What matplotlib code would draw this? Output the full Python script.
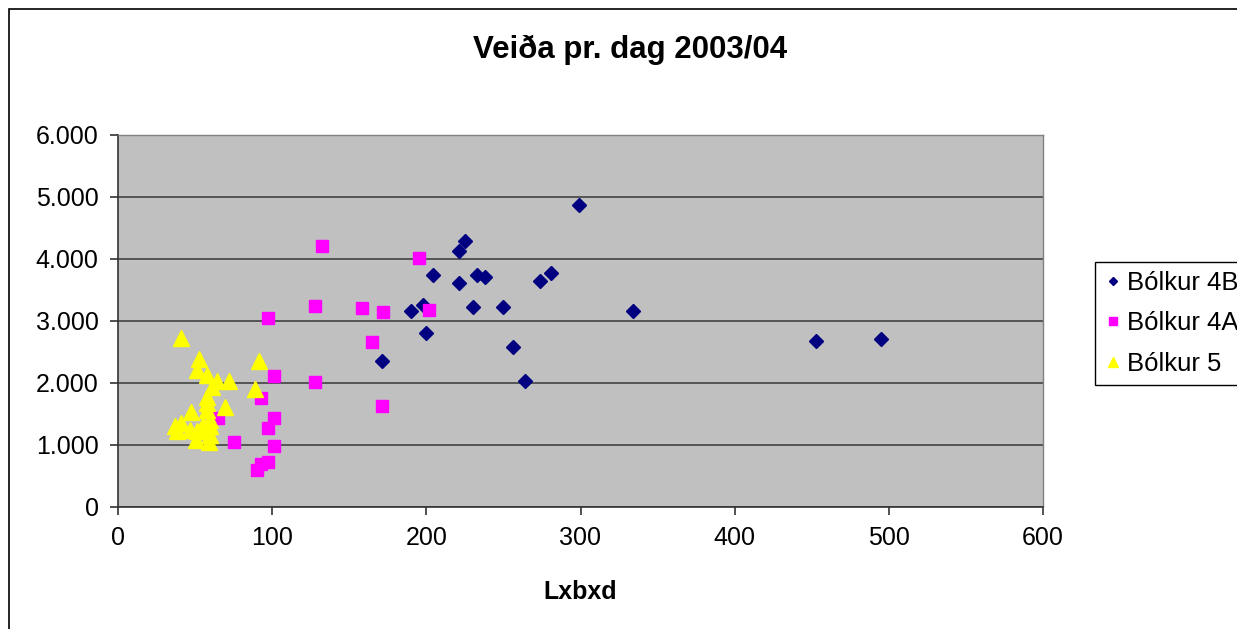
import matplotlib
matplotlib.use("Agg")
import matplotlib.pyplot as plt
from matplotlib.patches import Rectangle
from matplotlib.ticker import FuncFormatter, MultipleLocator

plt.rcParams['font.family'] = ['Liberation Sans', 'DejaVu Sans']

title = "Veiða pr. dag 2003/04"
xlabel = "Lxbxd"
series_names = ["Bólkur 4B", "Bólkur 4A", "Bólkur 5"]

# Bólkur 4B
x_4b = [299, 225, 221, 204, 221, 233, 238, 274, 281, 198, 190, 230, 250, 200, 256, 171, 264, 334, 453, 495]
y_4b = [4875, 4290, 4130, 3740, 3620, 3750, 3710, 3650, 3780, 3260, 3160, 3230, 3230, 2805, 2585, 2360, 2035, 3165, 2675, 2710]

# Bólkur 4A
x_4a = [132, 195, 128, 158, 172, 202, 165, 128, 171, 97, 101, 93, 101, 97, 75, 101, 97, 93, 90, 65]
y_4a = [4215, 4020, 3245, 3215, 3150, 3180, 2665, 2020, 1630, 3050, 2120, 1760, 1440, 1280, 1055, 990, 730, 700, 600, 1440]

# Bólkur 5
x_5 = [41, 52.5, 51, 91.5, 57.5, 64, 72, 89, 61, 57.5, 57.5, 69.5, 57.5, 47.5, 41, 37, 38.5, 46.5,
       59.5, 59.5, 51, 50.5, 59, 59.5, 55, 55]
y_5 = [2730, 2380, 2210, 2350, 2130, 2040, 2040, 1900, 1930, 1780, 1670, 1620, 1565, 1540, 1350, 1300, 1220, 1240,
       1400, 1300, 1220, 1080, 1050, 1160, 1220, 1320]

W, H = 1237, 629
fig = plt.figure(figsize=(W / 100, H / 100), dpi=100)
fig.patch.set_facecolor('white')

# outer chart border (extends beyond the image at right/bottom)
fig.patches.append(Rectangle((9 / W, -0.1), 1.2, 1 - 9 / H + 0.1, transform=fig.transFigure,
                             fill=False, edgecolor='black', linewidth=1.2, zorder=0))

left, right, top, bottom = 118 / W, 1043 / W, 135 / H, 507 / H
ax = fig.add_axes([left, 1 - bottom, right - left, bottom - top])
ax.set_facecolor('#C0C0C0')

ax.plot(x_4b, y_4b, linestyle='none', marker='D', markersize=7, color='#000080',
        markeredgecolor='#000080', label=series_names[0], zorder=3)
ax.plot(x_4a, y_4a, linestyle='none', marker='s', markersize=8.5, color='#FF00FF',
        markeredgecolor='#FF00FF', label=series_names[1], zorder=3)
ax.plot(x_5, y_5, linestyle='none', marker='^', markersize=12, color='#FFFF00',
        markeredgecolor='#FFFF00', label=series_names[2], zorder=3)

ax.set_xlim(0, 600)
ax.set_ylim(0, 6000)
ax.xaxis.set_major_locator(MultipleLocator(100))
ax.yaxis.set_major_locator(MultipleLocator(1000))
ax.yaxis.set_major_formatter(FuncFormatter(lambda v, p: "0" if v == 0 else f"{int(v):,}".replace(",", ".")))
ax.grid(axis='y', color='#555555', linewidth=1.4, zorder=1)
ax.set_axisbelow(True)

for s in ['top', 'right']:
    ax.spines[s].set_color('#808080')
    ax.spines[s].set_linewidth(1.0)
for s in ['left', 'bottom']:
    ax.spines[s].set_color('#333333')
    ax.spines[s].set_linewidth(1.2)

ax.tick_params(axis='both', direction='out', length=6, width=1.2, color='#333333',
               labelsize=18, pad=8)

ax.set_xlabel(xlabel, fontsize=18, fontweight='bold', labelpad=21)
fig.text(630 / W, 1 - 50 / H, title, ha='center', va='center', fontsize=22.5, fontweight='bold')

leg = fig.legend(loc='upper left', bbox_to_anchor=(1095 / W, 1 - 262 / H), fontsize=18.5,
                 frameon=True, fancybox=False, edgecolor='black', framealpha=1,
                 markerscale=0.6, handlelength=0.7, handletextpad=0.2, borderpad=0.35,
                 labelspacing=0.64, borderaxespad=0)
leg.get_frame().set_linewidth(1.0)

fig.savefig("out.png", dpi=100)
